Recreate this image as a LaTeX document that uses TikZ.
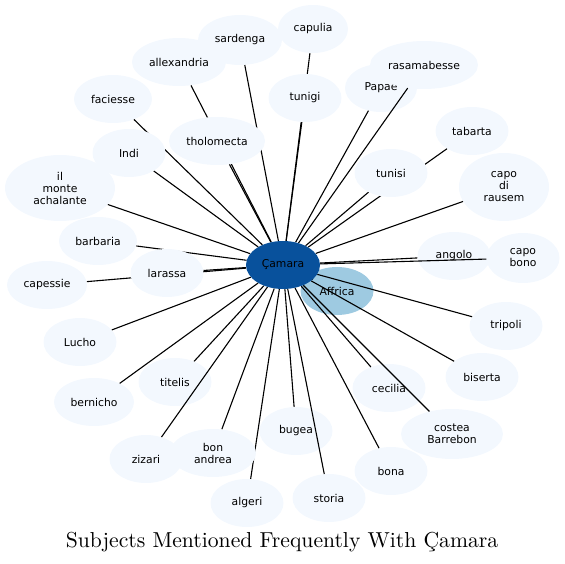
\documentclass[tikz,border=0pt]{standalone}
\usepackage{fontspec}
\usepackage[svgnames]{xcolor}
\usepackage{tikz}
\usetikzlibrary{shapes.geometric}
\newfontfamily\labelfont{DejaVu Sans}
\newfontfamily\titlefont{lmroman10-regular.otf}
\definecolor{hubblue}{HTML}{08519C}
\definecolor{nearblue}{HTML}{9ECAE1}
\definecolor{paleblue}{HTML}{F3F8FE}
\pgfdeclarelayer{low}
\pgfdeclarelayer{mid}
\pgfsetlayers{low,mid,main}

\begin{document}
\begin{tikzpicture}[x = 1pt, y = -1pt,
    main/.style = {ellipse, fill = paleblue, minimum width = 73pt, minimum height = 48pt,
        inner sep = 0pt, align = center, font = \labelfont\fontsize{10.8}{12}\selectfont},
    link/.style = {draw, line width = 1.1pt}]
    \useasboundingbox (0,0) rectangle (565,564);
    % nodes that the lines run over
    \begin{pgfonlayer}{low}
    \node[main, minimum width = 84pt, minimum height = 50pt] (sardenga) at (240,40) {sardenga};
    \node[main, minimum width = 70pt] (capulia) at (313,29) {capulia};
    \node[main, minimum width = 94pt] (allexandria) at (179,62) {allexandria};
    \node[main, minimum width = 72pt] (papae) at (381,88) {Papae};
    \node[main, minimum width = 108pt] (rasamabesse) at (424,65) {rasamabesse};
    \node[main, minimum width = 78pt] (faciesse) at (113,99) {faciesse};
    \node[main] (tabarta) at (472,131) {tabarta};
    \node[main, minimum width = 90pt, minimum height = 68pt] (rausem) at (504,187) {capo\\di\\rausem};
    \node[main, minimum width = 110pt, minimum height = 66pt] (monte) at (60,188) {il\\monte\\achalante};
    \node[main, minimum width = 78pt] (barbaria) at (98,241) {barbaria};
    \node[main] (angolo) at (454,256) {angolo};
    \node[main, minimum height = 50pt] (bono) at (523,258) {capo\\bono};
    \node[main, fill = nearblue] (affrica) at (337,291) {Affrica};
    \node[main, minimum width = 80pt] (capessie) at (47,285) {capessie};
    \node[main] (tripoli) at (506,326) {tripoli};
    \node[main] (lucho) at (80,342) {Lucho};
    \node[main] (titelis) at (175,382) {titelis};
    \node[main] (biserta) at (482,377) {biserta};
    \node[main] (cecilia) at (389,388) {cecilia};
    \node[main, minimum width = 80pt] (bernicho) at (94,402) {bernicho};
    \node[main] (bugea) at (296,431) {bugea};
    \node[main, minimum width = 102pt, minimum height = 50pt] (costea) at (452,434) {costea\\Barrebon};
    \node[main] (zizari) at (146,459) {zizari};
    \node[main] (bona) at (391,471) {bona};
    \node[main] (storia) at (329,498) {storia};
    \node[main] (algeri) at (247,503) {algeri};
    \end{pgfonlayer}
    % nodes on top of the lines
    \node[main] (tunigi) at (305,98) {tunigi};
    \node[main, minimum width = 96pt] (tholomecta) at (217,141) {tholomecta};
    \node[main] (indi) at (129,153) {Indi};
    \node[main] (tunisi) at (391,173) {tunisi};
    \node[main] (larassa) at (167,273) {larassa};
    \node[main, minimum width = 86pt] (bonandrea) at (213,453) {bon\\andrea};
    \node[main, fill = hubblue, minimum width = 74pt] (camara) at (283,265) {Çamara};
    % links from the hub
    \begin{pgfonlayer}{mid}
    \path[link] (camara) -- (sardenga);
    \path[link] (camara) -- (capulia);
    \path[link] (camara) -- (allexandria);
    \path[link] (camara) -- (rasamabesse);
    \path[link] (camara) -- (faciesse);
    \path[link] (camara) -- (papae);
    \path[link] (camara) -- (tabarta);
    \path[link] (camara) -- (rausem);
    \path[link] (camara) -- (monte);
    \path[link] (camara) -- (barbaria);
    \path[link] (camara) -- (angolo);
    \path[link] (camara) -- (bono);
    \path[link] (camara) -- (affrica);
    \path[link] (camara) -- (capessie);
    \path[link] (camara) -- (tripoli);
    \path[link] (camara) -- (lucho);
    \path[link] (camara) -- (titelis);
    \path[link] (camara) -- (biserta);
    \path[link] (camara) -- (cecilia);
    \path[link] (camara) -- (bernicho);
    \path[link] (camara) -- (bugea);
    \path[link] (camara) -- (costea);
    \path[link] (camara) -- (zizari);
    \path[link] (camara) -- (bona);
    \path[link] (camara) -- (storia);
    \path[link] (camara) -- (algeri);
    \path[link] (camara) -- (tunigi);
    \path[link] (camara) -- (tholomecta);
    \path[link] (camara) -- (indi);
    \path[link] (camara) -- (tunisi);
    \path[link] (camara) -- (larassa);
    \path[link] (camara) -- (bonandrea);
    \end{pgfonlayer}
    \node[font = \titlefont\fontsize{21.65}{26}\selectfont] (title) at (282,542) {Subjects Mentioned Frequently With Çamara};
\end{tikzpicture}
\end{document}
